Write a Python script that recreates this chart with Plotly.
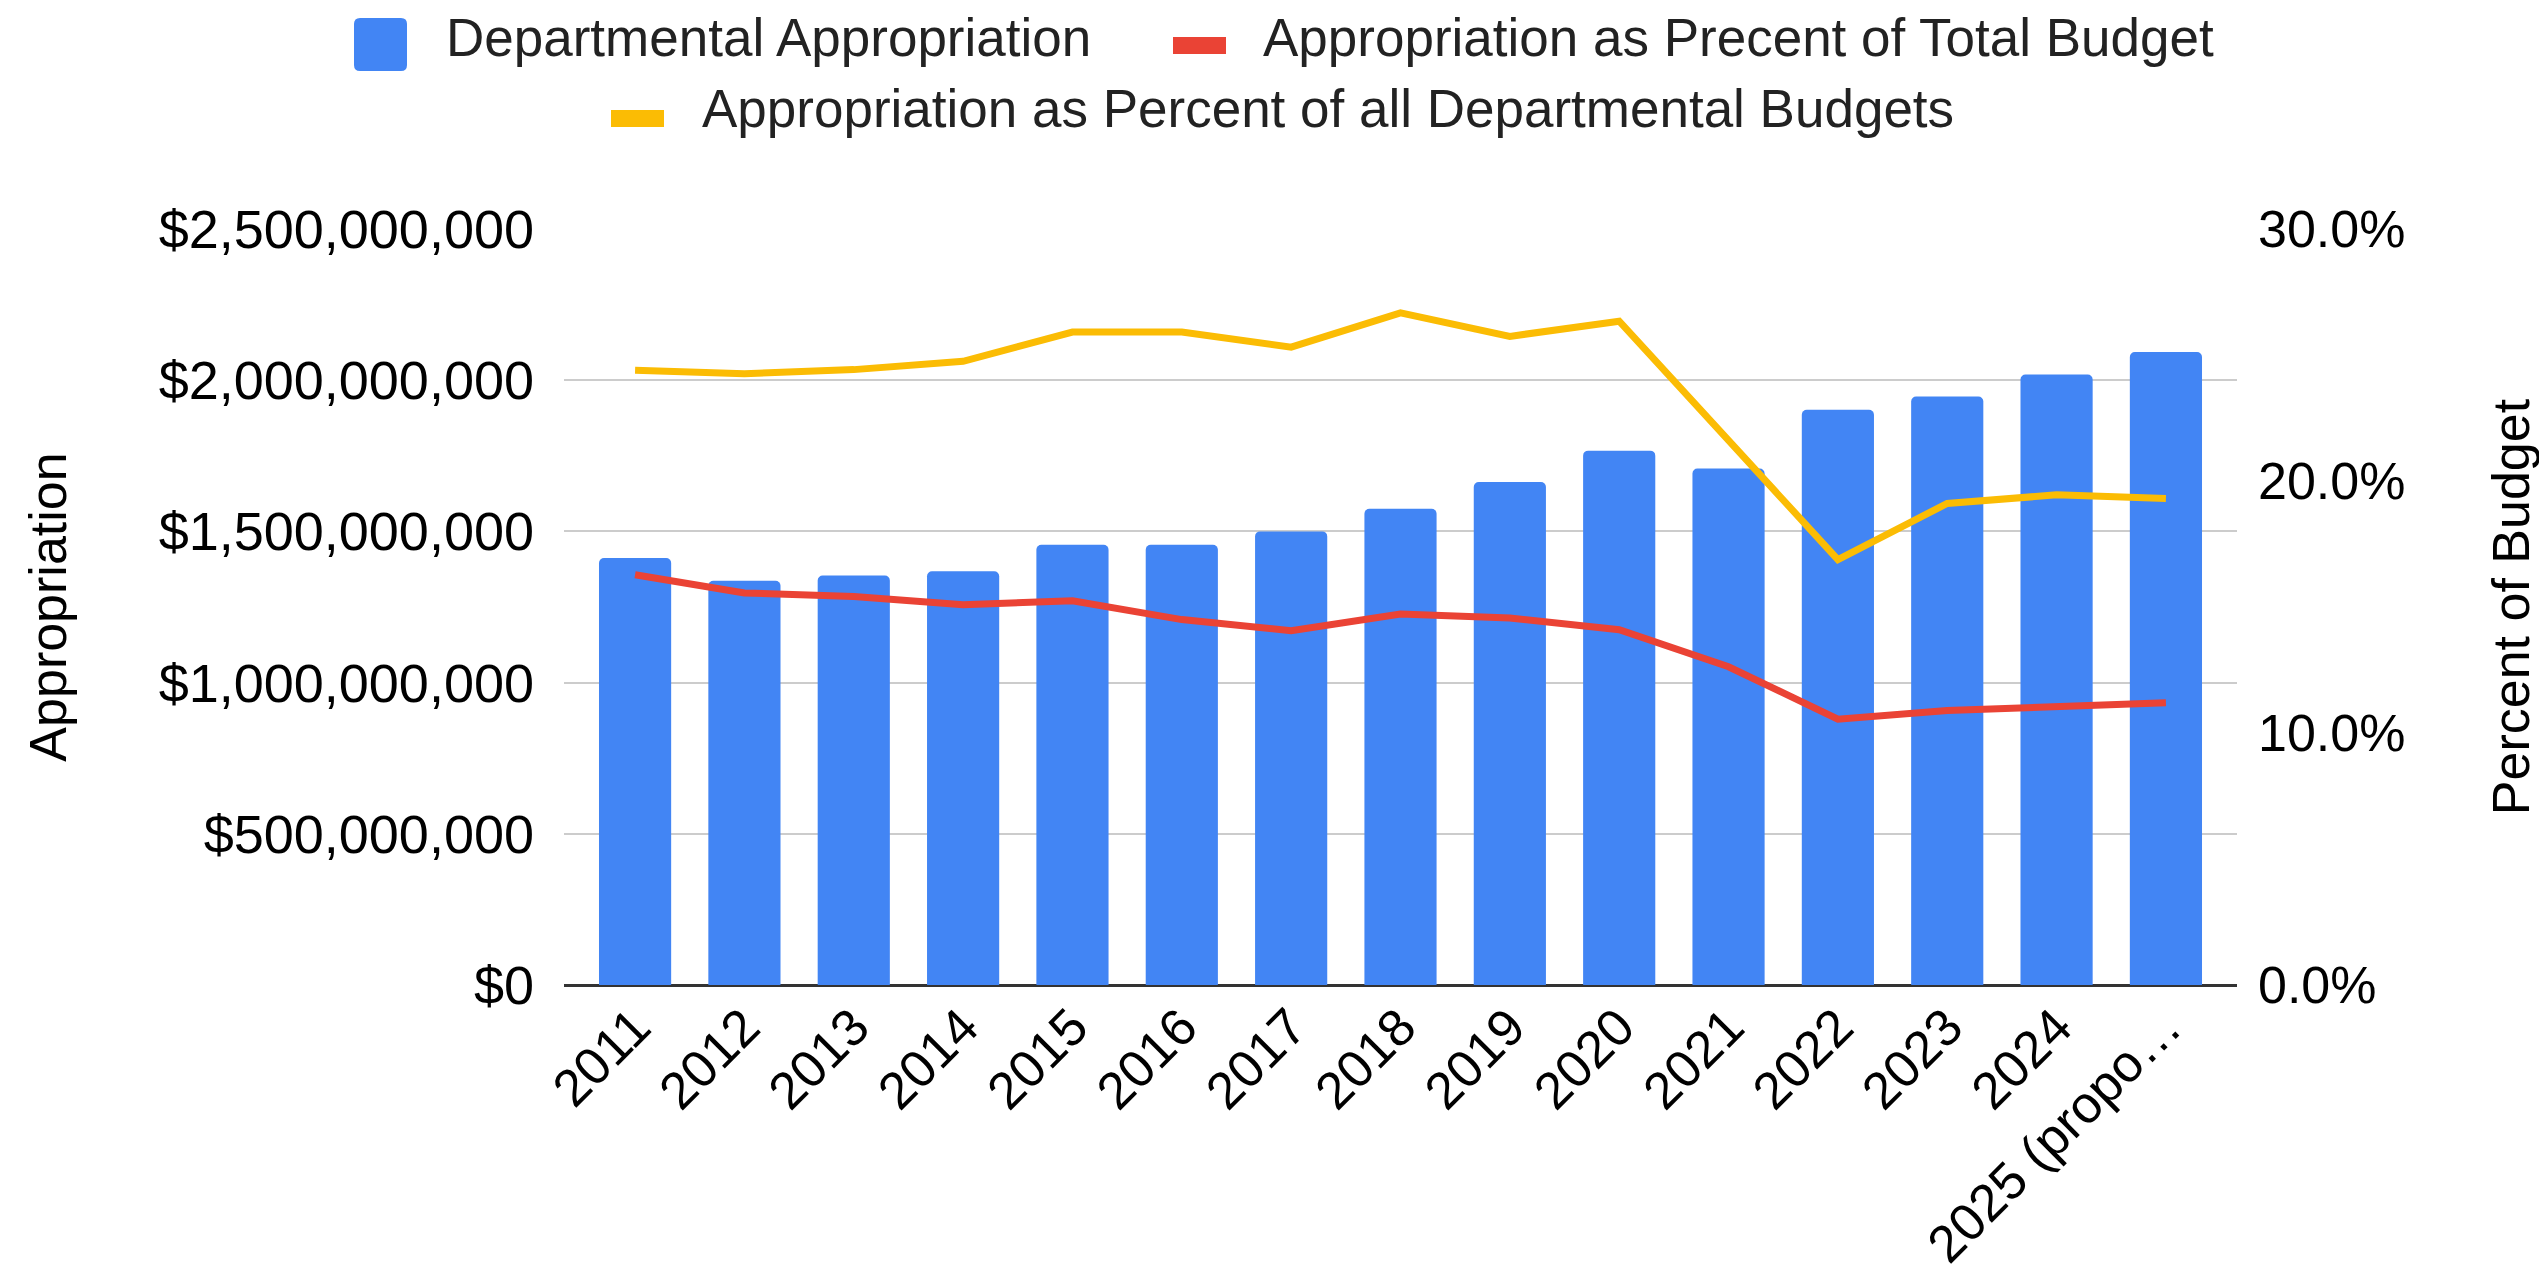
import plotly.graph_objects as go

categories = ["2011", "2012", "2013", "2014", "2015", "2016", "2017", "2018",
              "2019", "2020", "2021", "2022", "2023", "2024", "2025 (propo…"]
appropriation = [1.412e9, 1.337e9, 1.354e9, 1.368e9, 1.456e9, 1.456e9, 1.500e9, 1.575e9,
                 1.663e9, 1.767e9, 1.708e9, 1.902e9, 1.946e9, 2.019e9, 2.093e9]
pct_total_budget = [0.1628, 0.1556, 0.1542, 0.1509, 0.1525, 0.1450, 0.1406, 0.1472,
                    0.1456, 0.1410, 0.1263, 0.1055, 0.1089, 0.1103, 0.1120]
pct_dept_budgets = [0.2439, 0.2426, 0.2442, 0.2475, 0.2591, 0.2591, 0.2531, 0.2667,
                    0.2574, 0.2634, 0.2161, 0.1688, 0.1911, 0.1945, 0.1931]
series_names = ["Departmental Appropriation",
                "Appropriation as Precent of Total Budget",
                "Appropriation as Percent of all Departmental Budgets"]

FONT = "Arial, 'Liberation Sans', sans-serif"
BLUE = "#4285F4"
RED = "#EA4335"
YELLOW = "#FBBC04"

W, H = 2547, 1280
L, R, T, B = 556, 2229, 221, 977   # plot area in page pixels
PW, PH = R - L, B - T


def px(x):
    return (x - L) / PW


def py(y):
    return (B - y) / PH


fig = go.Figure()
fig.add_trace(go.Bar(
    x=categories, y=appropriation, name=series_names[0],
    marker=dict(color=BLUE, cornerradius=5, line=dict(width=0)), yaxis="y"))
fig.add_trace(go.Scatter(
    x=categories, y=pct_total_budget, name=series_names[1],
    mode="lines", line=dict(color=RED, width=7), yaxis="y2"))
fig.add_trace(go.Scatter(
    x=categories, y=pct_dept_budgets, name=series_names[2],
    mode="lines", line=dict(color=YELLOW, width=7), yaxis="y2"))

# ---- legend (drawn as shapes + text, laid out like the original) ----
def rounded_rect(x0, y0, x1, y1, r):
    rx, ry = r / PW, r / PH
    a, b_, c, d = px(x0), px(x1), py(y1), py(y0)  # left, right, bottom, top (paper)
    return (f"M{a + rx},{d} L{b_ - rx},{d} Q{b_},{d} {b_},{d - ry} "
            f"L{b_},{c + ry} Q{b_},{c} {b_ - rx},{c} L{a + rx},{c} "
            f"Q{a},{c} {a},{c + ry} L{a},{d - ry} Q{a},{d} {a + rx},{d} Z")


shapes = [
    dict(type="path", xref="paper", yref="paper", path=rounded_rect(346, 10, 399, 63, 6),
         fillcolor=BLUE, line=dict(width=0)),
    dict(type="rect", xref="paper", yref="paper", x0=px(1165), x1=px(1218),
         y0=py(46), y1=py(29), fillcolor=RED, line=dict(width=0)),
    dict(type="rect", xref="paper", yref="paper", x0=px(603), x1=px(656),
         y0=py(119), y1=py(102), fillcolor=YELLOW, line=dict(width=0)),
]
legend_text = [(436, 29, series_names[0]), (1253, 29, series_names[1]),
               (692, 101, series_names[2])]
annotations = [
    dict(x=px(x), y=py(y), xref="paper", yref="paper", text=t, showarrow=False,
         xanchor="left", yanchor="middle", font=dict(size=53, color="#222222"))
    for x, y, t in legend_text
]

fig.update_layout(
    width=W, height=H,
    margin=dict(l=L, r=W - R, t=T, b=H - B),
    paper_bgcolor="white", plot_bgcolor="white",
    font=dict(family=FONT, size=52, color="#000000"),
    showlegend=False,
    bargap=0.34,
    shapes=shapes,
    annotations=annotations,
    xaxis=dict(
        type="category", range=[-0.65, 14.65], tickangle=-45,
        showgrid=False, showline=False, ticks="",
        tickfont=dict(size=52, color="#000000"),
    ),
    yaxis=dict(
        range=[0, 2.5e9], dtick=5e8, tickprefix="$", tickformat=",d",
        showgrid=True, gridcolor="#CCCCCC", gridwidth=2,
        zeroline=True, zerolinecolor="#333333", zerolinewidth=3,
        ticks="", ticklabelstandoff=29,
        tickfont=dict(size=54, color="#000000"),
        title=dict(text="Appropriation", font=dict(size=52), standoff=75),
    ),
    yaxis2=dict(
        overlaying="y", side="right", range=[0, 0.30],
        tickvals=[0, 0.1, 0.2, 0.3], tickformat=".1%",
        showgrid=False, zeroline=False, ticks="", ticklabelstandoff=20,
        tickfont=dict(size=52, color="#000000"),
        title=dict(text="Percent of Budget", font=dict(size=52), standoff=88),
    ),
)

fig.write_html("out.html")
